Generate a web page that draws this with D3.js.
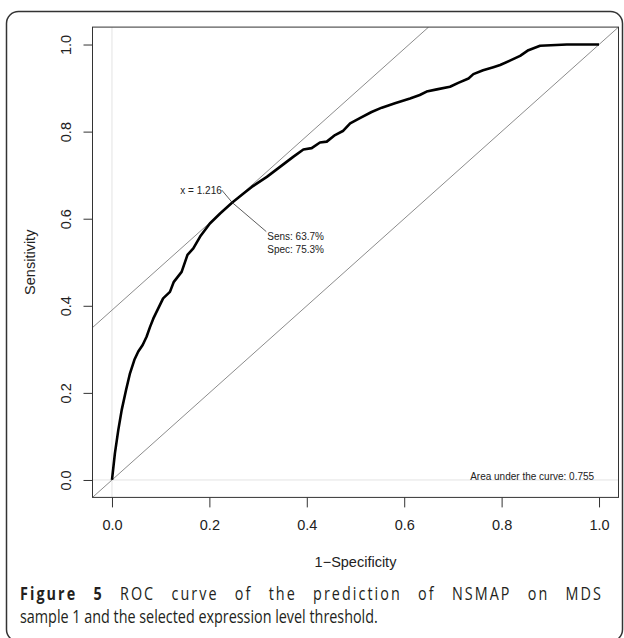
<!DOCTYPE html>
<html>
<head>
<meta charset="utf-8">
<script src="https://cdn.jsdelivr.net/npm/d3@7"></script>
<style>
  body { margin: 0; background: #fff; }
  svg { display: block; }
</style>
</head>
<body>
<div id="chart"></div>
<script>
// ROC curve points (false positive rate, sensitivity)
const fpr = [0.000, 0.006, 0.013, 0.020, 0.029, 0.037, 0.046, 0.054, 0.063, 0.071,
  0.078, 0.085, 0.095, 0.105, 0.119, 0.127, 0.143, 0.155, 0.167, 0.181,
  0.201, 0.222, 0.247, 0.270, 0.287, 0.318, 0.345, 0.372, 0.393, 0.410,
  0.427, 0.441, 0.458, 0.475, 0.489, 0.509, 0.533, 0.554, 0.581, 0.612,
  0.632, 0.646, 0.667, 0.694, 0.711, 0.732, 0.742, 0.762, 0.783, 0.797,
  0.817, 0.838, 0.855, 0.879, 0.934, 1.000];
const sens = [0.000, 0.061, 0.115, 0.161, 0.207, 0.245, 0.276, 0.295, 0.310, 0.329,
  0.351, 0.371, 0.394, 0.417, 0.432, 0.455, 0.478, 0.517, 0.532, 0.559,
  0.589, 0.612, 0.637, 0.658, 0.673, 0.696, 0.719, 0.742, 0.759, 0.762,
  0.775, 0.777, 0.792, 0.802, 0.819, 0.831, 0.845, 0.855, 0.865, 0.876,
  0.884, 0.892, 0.897, 0.903, 0.912, 0.922, 0.932, 0.941, 0.948, 0.953,
  0.963, 0.974, 0.987, 0.997, 1.000, 1.000];

const xTicks = [0, 0.2, 0.4, 0.6, 0.8, 1.0];
const yTicks = [0, 0.2, 0.4, 0.6, 0.8, 1.0];

// selected threshold
const thrFpr = 0.247;
const thrSens = 0.637;
const thrLabel = "x = 1.216";
const thrText = ["Sens: 63.7%", "Spec: 75.3%"];
const aucText = "Area under the curve: 0.755";

const captionBold = "Figure 5";
const captionLine1 = " ROC curve of the prediction of NSMAP on MDS";
const captionLine2 = "sample 1 and the selected expression level threshold.";

const W = 624, H = 638;

const svg = d3.select("#chart").append("svg")
    .attr("width", W)
    .attr("height", H);

// outer frame
svg.append("rect")
    .attr("x", 6.5).attr("y", 11.5)
    .attr("width", 616).attr("height", 630)
    .attr("rx", 12).attr("ry", 12)
    .attr("fill", "none")
    .attr("stroke", "#333")
    .attr("stroke-width", 1.5);

// scales (R style 4% padding)
const x = d3.scaleLinear().domain([-0.04, 1.04]).range([92.5, 618.5]);
const y = d3.scaleLinear().domain([-0.04, 1.04]).range([497.4, 27.1]);

const [x0, x1] = x.range();
const [y0, y1] = y.range();

svg.append("defs").append("clipPath")
    .attr("id", "plot-clip")
    .append("rect")
    .attr("x", x0).attr("y", y1)
    .attr("width", x1 - x0).attr("height", y0 - y1);

const plot = svg.append("g").attr("clip-path", "url(#plot-clip)");

// light reference lines at 0
plot.append("line")
    .attr("x1", x(0)).attr("x2", x(0))
    .attr("y1", y1).attr("y2", y0)
    .attr("stroke", "#e3e3e3").attr("stroke-width", 1);
plot.append("line")
    .attr("x1", x0).attr("x2", x1)
    .attr("y1", y(0)).attr("y2", y(0))
    .attr("stroke", "#e3e3e3").attr("stroke-width", 1);

// chance diagonal and tangent line through the threshold
const offset = thrSens - thrFpr;
plot.append("line")
    .attr("x1", x(-0.04)).attr("y1", y(-0.04))
    .attr("x2", x(1.04)).attr("y2", y(1.04))
    .attr("stroke", "#8c8c8c").attr("stroke-width", 1);
plot.append("line")
    .attr("x1", x(-0.04)).attr("y1", y(-0.04 + offset))
    .attr("x2", x(1.04 - offset)).attr("y2", y(1.04))
    .attr("stroke", "#8c8c8c").attr("stroke-width", 1);

// ROC curve
const pts = fpr.map((f, i) => [f, sens[i]]);
const line = d3.line()
    .x(d => x(d[0]))
    .y(d => y(d[1]));

plot.append("path")
    .datum(pts)
    .attr("fill", "none")
    .attr("stroke", "#000")
    .attr("stroke-width", 2.6)
    .attr("stroke-linejoin", "round")
    .attr("d", line);

// threshold annotation
const px = x(thrFpr), py = y(thrSens);
svg.append("line")
    .attr("x1", px - 10.5).attr("y1", py - 12.5)
    .attr("x2", px).attr("y2", py)
    .attr("stroke", "#333").attr("stroke-width", 0.8);
svg.append("line")
    .attr("x1", px).attr("y1", py)
    .attr("x2", px + 34).attr("y2", py + 29)
    .attr("stroke", "#333").attr("stroke-width", 0.8);

const annFont = "'Liberation Sans', Arial, sans-serif";
svg.append("text")
    .attr("x", px - 10.5).attr("y", py - 9)
    .attr("text-anchor", "end")
    .attr("font-family", annFont).attr("font-size", 10)
    .attr("fill", "#222")
    .text(thrLabel);

svg.append("g").selectAll("text")
    .data(thrText)
    .join("text")
    .attr("x", px + 35)
    .attr("y", (d, i) => py + 37.5 + i * 13)
    .attr("font-family", annFont).attr("font-size", 10)
    .attr("fill", "#222")
    .text(d => d);

svg.append("text")
    .attr("x", x(0.99)).attr("y", y(0) + 0.5)
    .attr("text-anchor", "end")
    .attr("font-family", annFont).attr("font-size", 10)
    .attr("fill", "#222")
    .text(aucText);

// axes
const fmt = d3.format(".1f");
const axisFont = "'Liberation Sans', Arial, sans-serif";

const xAxis = svg.append("g")
    .attr("transform", `translate(0,${y0})`)
    .call(d3.axisBottom(x).tickValues(xTicks).tickFormat(fmt).tickSize(10).tickPadding(0));
xAxis.select(".domain").remove();
xAxis.selectAll(".tick line").attr("stroke", "#333");
xAxis.selectAll(".tick text")
    .attr("y", 28).attr("dy", "0.35em")
    .attr("font-family", axisFont).attr("font-size", 14.5)
    .attr("fill", "#222");

const yAxis = svg.append("g")
    .attr("transform", `translate(${x0},0)`)
    .call(d3.axisLeft(y).tickValues(yTicks).tickFormat(fmt).tickSize(9).tickPadding(0));
yAxis.select(".domain").remove();
yAxis.selectAll(".tick line").attr("stroke", "#333");
yAxis.selectAll(".tick text")
    .attr("x", 0).attr("dy", null)
    .attr("text-anchor", "middle")
    .attr("dominant-baseline", "central")
    .attr("transform", "translate(-27,0) rotate(-90)")
    .attr("font-family", axisFont).attr("font-size", 14.5)
    .attr("fill", "#222");

// plot box
svg.append("rect")
    .attr("x", x0).attr("y", y1)
    .attr("width", x1 - x0).attr("height", y0 - y1)
    .attr("fill", "none")
    .attr("stroke", "#333").attr("stroke-width", 1);

// axis titles
svg.append("text")
    .attr("transform", `translate(30,${(y(0) + y(1)) / 2}) rotate(-90)`)
    .attr("text-anchor", "middle")
    .attr("dominant-baseline", "central")
    .attr("font-family", axisFont).attr("font-size", 14.5)
    .attr("fill", "#222")
    .text("Sensitivity");

svg.append("text")
    .attr("x", (x(0) + x(1)) / 2).attr("y", 562)
    .attr("text-anchor", "middle")
    .attr("dominant-baseline", "central")
    .attr("font-family", axisFont).attr("font-size", 14.5)
    .attr("fill", "#222")
    .text("1\u2212Specificity");

// caption (narrow humanist face: Open Sans squeezed horizontally)
const capFont = "'Open Sans', 'Noto Sans', sans-serif";
const capSize = 17.5;
const capLeft = 20, capRight = 603, line2Right = 378;

const cap2 = svg.append("text")
    .attr("font-family", capFont).attr("font-size", capSize)
    .attr("fill", "#231f20")
    .text(captionLine2);
const w2 = cap2.node().getComputedTextLength();
const sx = (line2Right - capLeft) / w2;
cap2.attr("transform", `translate(${capLeft},623) scale(${sx},1)`);

const cap1 = svg.append("text")
    .attr("transform", `translate(${capLeft},600) scale(${sx},1)`)
    .attr("font-family", capFont).attr("font-size", capSize)
    .attr("fill", "#231f20");
cap1.append("tspan").attr("font-weight", "bold").text(captionBold);
cap1.append("tspan").text(captionLine1);

// justify line 1 with a mix of word and letter spacing
const full1 = captionBold + captionLine1;
const nSpaces = full1.split(" ").length - 1;
const nGaps = full1.length - 1;
const target1 = (capRight - capLeft) / sx;
const ws = 13;
const w1 = cap1.node().getComputedTextLength();
cap1.attr("word-spacing", ws)
    .attr("letter-spacing", Math.max(0, (target1 - w1 - ws * nSpaces) / nGaps));
// second pass to remove residual error
const w1b = cap1.node().getComputedTextLength();
cap1.attr("word-spacing", ws + (target1 - w1b) / nSpaces);
</script>
</body>
</html>
